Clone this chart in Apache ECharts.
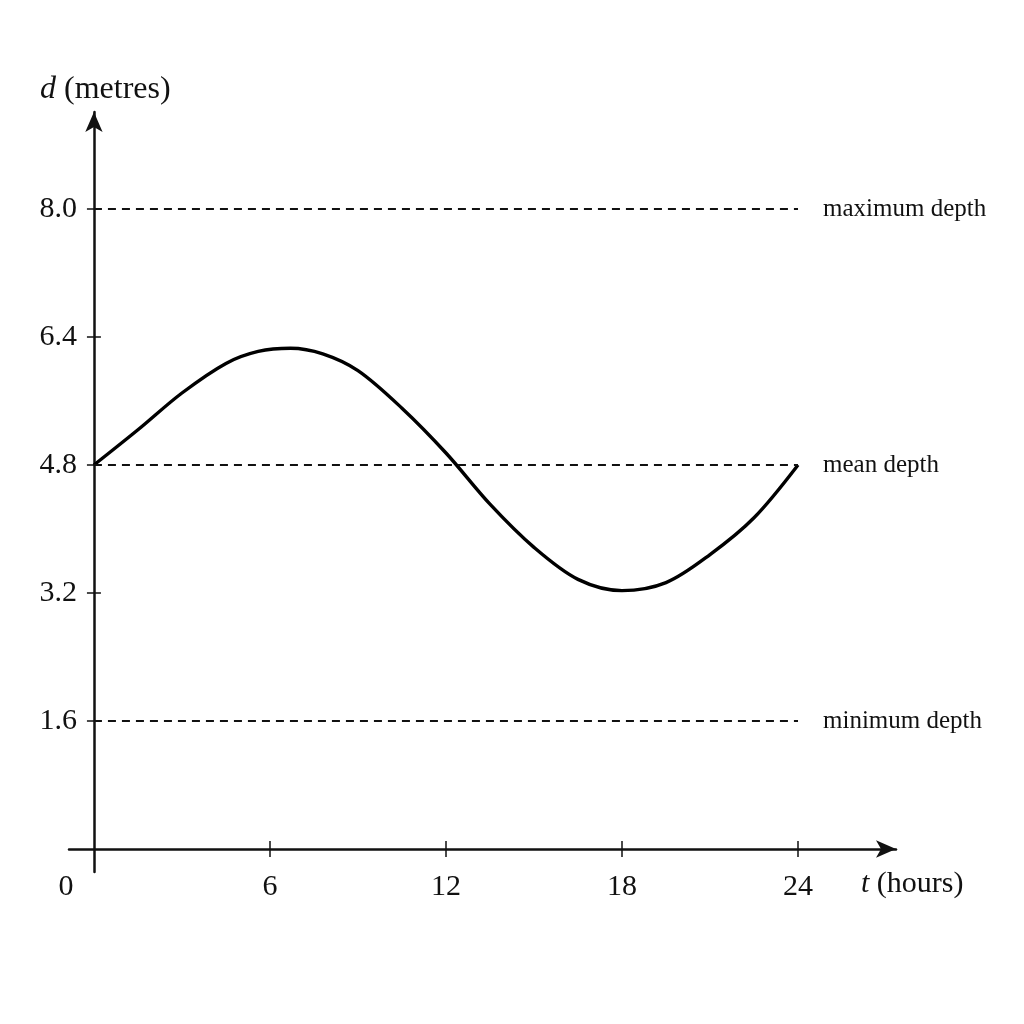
<!DOCTYPE html>
<html>
<head>
<meta charset="UTF-8">
<title>Tidal depth</title>
<script src="https://cdn.jsdelivr.net/npm/echarts@6.0.0/dist/echarts.min.js"></script>
<style>
  body{ margin:0; padding:0; background:#fff; }
  #chart{ width:1024px; height:1024px; }
</style>
</head>
<body>
<div id="chart"></div>
<script>
// values (peak near 6.7 h, trough near 18 h)
var hours  = [0, 1.5, 3, 4.5, 5.6, 6.7, 7.8, 9, 10.5, 12, 13.5, 15, 16.5, 18, 19.5, 21, 22.5, 24];
var depths = [4.8, 5.24, 5.70, 6.07, 6.22, 6.26, 6.19, 5.98, 5.51, 4.95, 4.31, 3.77, 3.37, 3.23, 3.33, 3.68, 4.14, 4.8];
var xTicks = [0, 6, 12, 18, 24];
var yTicks = [1.6, 3.2, 4.8, 6.4, 8.0];
var levelNames  = ['maximum depth', 'mean depth', 'minimum depth'];
var levelValues = [8.0, 4.8, 1.6];

var serif = '"Liberation Serif", "DejaVu Serif", serif';
var ink = '#111';

var curve = hours.map(function (t, i) { return [t, depths[i]]; });
var levels = levelValues.map(function (v, i) {
  return [{ coord: [0, v], name: levelNames[i] }, { coord: [24, v] }];
});

var chart = echarts.init(document.getElementById('chart'));
chart.setOption({
  backgroundColor: '#fff',
  animation: false,
  grid: { left: 69, right: 128, top: 112, bottom: 152, outerBoundsMode: 'none' },
  xAxis: [{
    type: 'value', min: -0.85, max: 27.34,
    axisLine: { onZero: true, symbol: ['none', 'arrow'], symbolSize: [13, 20],
      lineStyle: { color: ink, width: 2.5 } },
    axisTick: { customValues: xTicks.slice(1), length: 8, lineStyle: { color: ink, width: 1.5 } },
    axisLabel: {
      customValues: xTicks, margin: 0, color: ink, fontFamily: serif, fontSize: 30,
      formatter: function (v) { return v === 0 ? '{z|0}' : String(v); },
      rich: { z: { fontFamily: serif, fontSize: 30, color: ink, padding: [0, 56, 0, 0] } }
    },
    splitLine: { show: false }
  }, {
    // second axis on the same line, only to draw the upper half of each tick
    type: 'value', min: -0.85, max: 27.34,
    axisLine: { onZero: true, lineStyle: { opacity: 0 } },
    axisTick: { inside: false, customValues: xTicks.slice(1), length: 8, lineStyle: { color: ink, width: 1.5 } },
    axisLabel: { show: false },
    splitLine: { show: false }
  }],
  yAxis: [{
    type: 'value', min: -0.2875, max: 9.2125,
    axisLine: { onZero: true, symbol: ['none', 'arrow'], symbolSize: [13, 20],
      lineStyle: { color: ink, width: 2.5 } },
    axisTick: { customValues: yTicks, length: 7, lineStyle: { color: ink, width: 1.5 } },
    axisLabel: {
      customValues: yTicks, margin: -8, color: ink, fontFamily: serif, fontSize: 30,
      formatter: function (v) { return v.toFixed(1); }
    },
    splitLine: { show: false }
  }, {
    type: 'value', min: -0.2875, max: 9.2125,
    axisLine: { onZero: true, lineStyle: { opacity: 0 } },
    axisTick: { inside: false, customValues: yTicks, length: 7, lineStyle: { color: ink, width: 1.5 } },
    axisLabel: { show: false },
    splitLine: { show: false }
  }],
  series: [{
    type: 'line',
    data: curve,
    smooth: 0.33,
    symbol: 'none',
    lineStyle: { color: '#000', width: 3.4 },
    markLine: {
      silent: true,
      symbol: 'none',
      lineStyle: { color: ink, width: 1.8, type: [8, 6] },
      label: { show: true, position: 'end', distance: 25, formatter: '{b}',
        color: ink, fontFamily: serif, fontSize: 25 },
      data: levels
    }
  }],
  graphic: [{
    type: 'text', left: 40, top: 74,
    style: {
      text: '{i|d} (metres)', fill: ink, font: '32px ' + serif,
      rich: { i: { fontStyle: 'italic', fontFamily: serif, fontSize: 32, fill: ink } }
    }
  }, {
    type: 'text', left: 861, top: 869,
    style: {
      text: '{i|t} (hours)', fill: ink, font: '30px ' + serif,
      rich: { i: { fontStyle: 'italic', fontFamily: serif, fontSize: 30, fill: ink } }
    }
  }]
});
</script>
</body>
</html>
